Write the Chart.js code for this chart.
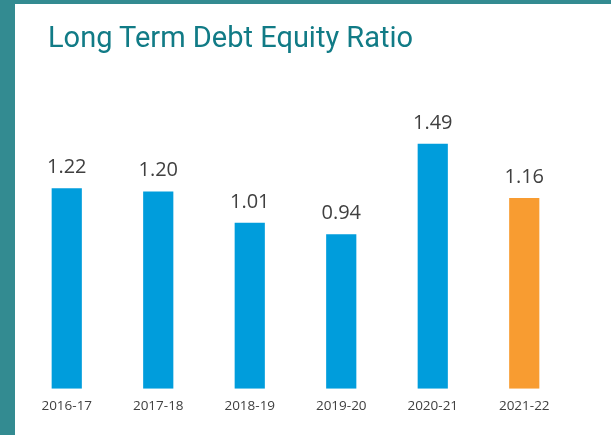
<!DOCTYPE html>
<html>
<head>
<meta charset="utf-8">
<script src="https://cdn.jsdelivr.net/npm/chart.js@4"></script>
<style>
  html, body { margin: 0; padding: 0; }
  body { width: 611px; height: 435px; background: #ffffff; overflow: hidden; }
  #frame {
    position: absolute; left: 0; top: 0; width: 596px; height: 431px;
    border-left: 15px solid #338b91; border-top: 4px solid #338b91; background: #fff;
  }
  #title {
    position: absolute; left: 33px; top: 19px; margin: 0;
    font-family: Roboto, "Noto Sans", sans-serif; font-weight: normal; font-size: 29px;
    line-height: 29px; color: #117b86; white-space: nowrap;
  }
  #wrap { position: absolute; left: 0; top: 0; width: 596px; height: 431px; }
</style>
</head>
<body>
<div id="frame">
  <div id="wrap"><canvas id="ratio_chart"></canvas></div>
  <h1 id="title">Long Term Debt Equity Ratio</h1>
</div>
<script>
    var years = ['2016-17', '2017-18', '2018-19', '2019-20', '2020-21', '2021-22']
    var ratios = [1.22, 1.20, 1.01, 0.94, 1.49, 1.16]
    var barColors = ['#009ddc', '#009ddc', '#009ddc', '#009ddc', '#009ddc', '#f89c31']

    // draws the value above each bar
    var valueLabels = {
        id: 'valueLabels',
        afterDatasetsDraw: function (chart) {
            var ctx = chart.ctx
            var meta = chart.getDatasetMeta(0)
            ctx.save()
            ctx.font = '20px "Open Sans", sans-serif'
            ctx.fillStyle = '#404040'
            ctx.textAlign = 'center'
            ctx.textBaseline = 'alphabetic'
            meta.data.forEach(function (bar, i) {
                ctx.fillText(ratios[i].toFixed(2), bar.x, bar.y - 15)
            })
            ctx.restore()
        }
    }

    var ctx = document.getElementById('ratio_chart')
    var ratio_chart = new Chart(ctx, {
        type: 'bar',
        data: {
            labels: years,
            datasets: [
                {
                    data: ratios,
                    backgroundColor: barColors,
                    borderWidth: 0,
                    barPercentage: 0.33,
                    categoryPercentage: 1.0
                }
            ]
        },
        options: {
            responsive: true,
            maintainAspectRatio: false,
            animation: false,
            layout: {
                padding: { left: 6, right: 41, top: 0, bottom: 20 }
            },
            plugins: {
                legend: { display: false },
                title: { display: false },
                tooltip: { enabled: false }
            },
            scales: {
                x: {
                    grid: { display: false },
                    border: { display: false },
                    ticks: {
                        color: '#404040',
                        font: { family: 'Open Sans', size: 13.5 },
                        padding: 1
                    }
                },
                y: {
                    display: false,
                    min: 0,
                    max: 2.34
                }
            }
        },
        plugins: [valueLabels]
    })
</script>
</body>
</html>
